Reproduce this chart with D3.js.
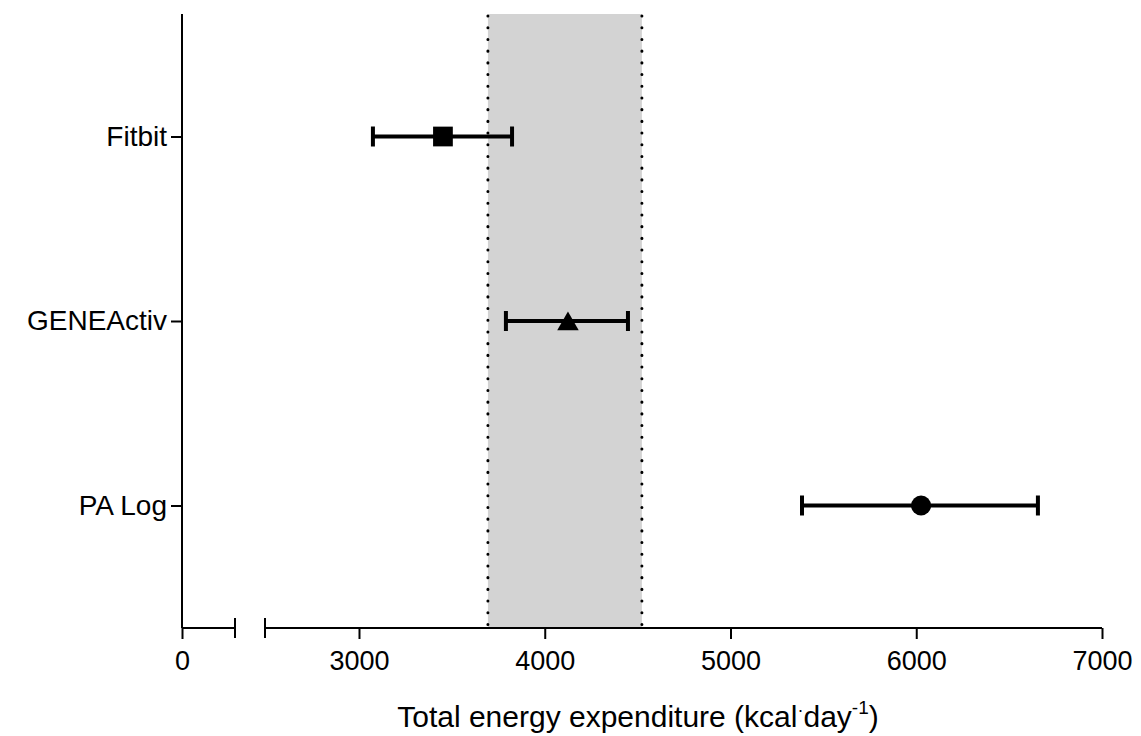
<!DOCTYPE html>
<html>
<head>
<meta charset="utf-8">
<script src="https://cdn.jsdelivr.net/npm/d3@7"></script>
<style>
  body { margin: 0; background: #fff; }
  text { font-family: "Liberation Sans", Arial, sans-serif; fill: #000; }
</style>
</head>
<body>
<svg id="chart" width="1141" height="736"></svg>
<script>
var categories = ["Fitbit", "GENEActiv", "PA Log"];
var means = [3452, 4125, 6026];
var lower = [3075, 3791, 5385];
var upper = [3824, 4448, 6655];
var shapes = ["square", "triangle", "circle"];
var bandRange = [3694, 4523];
var ticksLow = [0];
var ticksHigh = [3000, 4000, 5000, 6000, 7000];

var svg = d3.select("#chart"),
    plotLeft = 182, plotRight = 1102, plotTop = 14, plotBottom = 628;

// broken x axis: two linear segments
var xLow = d3.scaleLinear().domain([0, 285]).range([plotLeft, 235]);
var xHigh = d3.scaleLinear().domain([2494, 7000]).range([265, plotRight]);

var y = d3.scalePoint()
    .domain(categories)
    .range([plotTop, plotBottom])
    .padding(0.664);

// shaded reference band
svg.append("rect")
    .attr("x", xHigh(bandRange[0]))
    .attr("y", plotTop)
    .attr("width", xHigh(bandRange[1]) - xHigh(bandRange[0]))
    .attr("height", plotBottom - plotTop)
    .attr("fill", "#d3d3d3");

bandRange.forEach(function (v) {
    svg.append("line")
        .attr("x1", xHigh(v)).attr("x2", xHigh(v))
        .attr("y1", plotTop + 2).attr("y2", plotBottom - 2)
        .attr("stroke", "#000")
        .attr("stroke-width", 3)
        .attr("stroke-linecap", "round")
        .attr("stroke-dasharray", "0.1,11.6");
});

// y axis
var gy = svg.append("g")
    .attr("transform", "translate(" + plotLeft + ",0)")
    .call(d3.axisLeft(y).tickSize(11).tickPadding(4));
gy.select(".domain").attr("d", "M0," + plotTop + "V" + plotBottom).attr("stroke-width", 2);
gy.selectAll(".tick line").attr("stroke-width", 2);
gy.selectAll(".tick text").attr("font-size", 28).attr("font-family", null);

var fmt = d3.format("d");

// x axis, low segment
var gxl = svg.append("g")
    .attr("transform", "translate(0," + plotBottom + ")")
    .call(d3.axisBottom(xLow).tickValues(ticksLow).tickFormat(fmt).tickSize(11).tickPadding(12));
gxl.select(".domain").attr("d", "M" + plotLeft + ",0H235M235,-10V10").attr("stroke-width", 2);
gxl.selectAll(".tick line").attr("stroke-width", 2);
gxl.selectAll(".tick text").attr("font-size", 27).attr("font-family", null);

// x axis, high segment
var gxh = svg.append("g")
    .attr("transform", "translate(0," + plotBottom + ")")
    .call(d3.axisBottom(xHigh).tickValues(ticksHigh).tickFormat(fmt).tickSize(11).tickPadding(12));
gxh.select(".domain").attr("d", "M265,-10V10M265,0H" + plotRight).attr("stroke-width", 2);
gxh.selectAll(".tick line").attr("stroke-width", 2);
gxh.selectAll(".tick text").attr("font-size", 27).attr("font-family", null);

// error bars
var rows = categories.map(function (c, i) {
    return {cat: c, mean: means[i], lo: lower[i], hi: upper[i], shape: shapes[i]};
});

var g = svg.append("g");
rows.forEach(function (d) {
    var cy = y(d.cat);
    g.append("line")
        .attr("x1", xHigh(d.lo)).attr("x2", xHigh(d.hi))
        .attr("y1", cy).attr("y2", cy)
        .attr("stroke", "#000").attr("stroke-width", 4);
    [d.lo, d.hi].forEach(function (v) {
        g.append("line")
            .attr("x1", xHigh(v)).attr("x2", xHigh(v))
            .attr("y1", cy - 10).attr("y2", cy + 10)
            .attr("stroke", "#000").attr("stroke-width", 4);
    });
    var sym = d.shape == "square" ? d3.symbolSquare : d.shape == "triangle" ? d3.symbolTriangle : d3.symbolCircle;
    var size = d.shape == "square" ? 390 : d.shape == "triangle" ? 200 : 314;
    g.append("path")
        .attr("d", d3.symbol().type(sym).size(size)())
        .attr("transform", "translate(" + xHigh(d.mean) + "," + (d.shape == "triangle" ? cy + 3 : cy) + ")")
        .attr("fill", "#000");
});

// x axis title
var title = svg.append("text")
    .attr("x", 638)
    .attr("y", 727)
    .attr("text-anchor", "middle")
    .attr("font-size", 30);
title.append("tspan").text("Total energy expenditure (kcal");
title.append("tspan").attr("dy", -11).attr("font-size", 18).text("·");
title.append("tspan").attr("dy", 11).text("day");
title.append("tspan").attr("dy", -13).attr("font-size", 19).text("-1");
title.append("tspan").attr("dy", 13).text(")");
</script>
</body>
</html>
